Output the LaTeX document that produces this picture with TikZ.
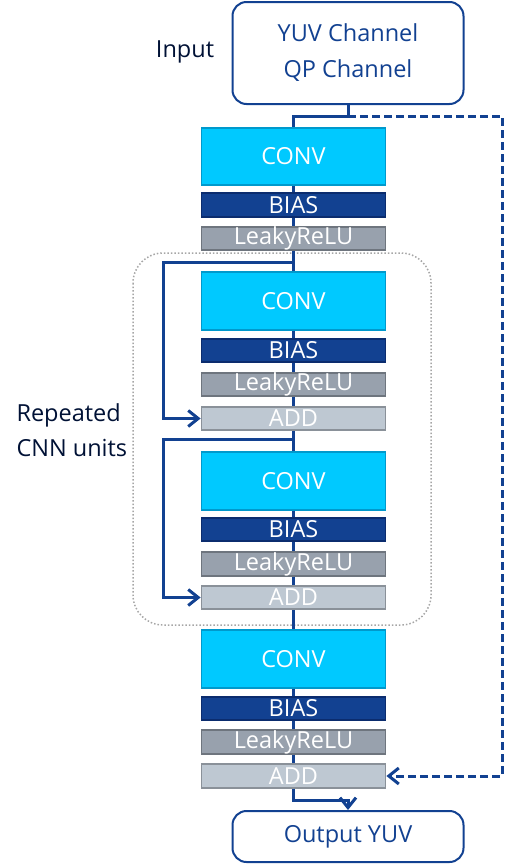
\documentclass[tikz,border=0pt]{standalone}
\usepackage{fontspec}
\setmainfont{Open Sans}
\usepackage{tikz}
\usetikzlibrary{arrows.meta,positioning,calc}
\definecolor{nblue}{HTML}{124191}
\definecolor{ndark}{HTML}{001135}
\definecolor{convfill}{HTML}{00C9FF}
\definecolor{convline}{HTML}{0099CC}
\definecolor{biasline}{HTML}{0B2C6E}
\definecolor{relufill}{HTML}{98A1AD}
\definecolor{reluline}{HTML}{6E757E}
\definecolor{addfill}{HTML}{BEC8D2}
\definecolor{addline}{HTML}{8A9199}

\begin{document}
\begin{tikzpicture}[x=1pt, y=-1pt, >={Straight Barb[length=10pt,width=16pt]},
    blk/.style={draw, line width=1.8pt, minimum width=184pt, inner sep=0pt, text=white,
        font=\fontsize{23.5}{26}\selectfont},
    convbox/.style={blk, fill=convfill, draw=convline, minimum height=57.5pt},
    biasbox/.style={blk, fill=nblue, draw=biasline, minimum height=23.5pt},
    relubox/.style={blk, fill=relufill, draw=reluline, minimum height=23.5pt},
    addbox/.style={blk, fill=addfill, draw=addline, minimum height=23.5pt},
    iobox/.style={draw=nblue, line width=2pt, rounded corners=14pt, minimum width=231pt,
        inner sep=0pt, text=nblue, align=center, font=\fontsize{23.5}{36}\selectfont},
    lbl/.style={text=ndark, align=left, font=\fontsize{23.5}{35}\selectfont},
    conn/.style={draw=nblue, line width=3pt}]
    \useasboundingbox (0,0) rectangle (504,868);

    % Input and output
    \node[iobox, minimum height=102pt] (in) at (348,53) {YUV Channel\\QP Channel};
    \node[lbl] (inlbl) at (185,52) {Input};
    \node[iobox, minimum height=51pt] (out) at (348,836.5) {Output YUV};

    % Repeated units frame
    \draw[gray!70, line width=1.5pt, dotted, rounded corners=30pt] (133,253) rectangle (431,625);
    \node[lbl, anchor=west] (replbl) at (13,430) {Repeated\\CNN units};

    % First unit
    \node[convbox] (conv1) at (293.5,156.5) {CONV};
    \node[biasbox] (bias1) at (293.5,205) {BIAS};
    \node[relubox] (relu1) at (293.5,238.5) {LeakyReLU};

    % Repeated units
    \node[convbox] (conv2) at (293.5,301) {CONV};
    \node[biasbox] (bias2) at (293.5,350.5) {BIAS};
    \node[relubox] (relu2) at (293.5,384.5) {LeakyReLU};
    \node[addbox] (add1) at (293.5,418.5) {ADD};

    \node[convbox] (conv3) at (293.5,481) {CONV};
    \node[biasbox] (bias3) at (293.5,529.5) {BIAS};
    \node[relubox] (relu3) at (293.5,564) {LeakyReLU};
    \node[addbox] (add2) at (293.5,597.5) {ADD};

    % Last unit
    \node[convbox] (conv4) at (293.5,659) {CONV};
    \node[biasbox] (bias4) at (293.5,708.5) {BIAS};
    \node[relubox] (relu4) at (293.5,742) {LeakyReLU};
    \node[addbox] (add3) at (293.5,776) {ADD};

    % Main path
    \coordinate (split) at (348,116);
    \draw[conn] (in.south) -- (split) -| (conv1.north);
    \foreach \a/\b in {conv1/bias1, bias1/relu1, relu1/conv2, conv2/bias2, bias2/relu2,
        relu2/add1, add1/conv3, conv3/bias3, bias3/relu3, relu3/add2, add2/conv4,
        conv4/bias4, bias4/relu4, relu4/add3}
        \draw[conn] (\a) -- (\b);
    \coordinate (outk) at (293.5,800);
    \draw[conn,->] (add3.south) -- (outk) -| (out.north);

    % Skip connections
    \coordinate (sk1) at (293.5,262);
    \coordinate (sk1b) at (163,262);
    \draw[conn,->] (sk1) -- (sk1b) |- (add1.west);
    \coordinate (sk2) at (293.5,439);
    \coordinate (sk2b) at (163,439);
    \draw[conn,->] (sk2) -- (sk2b) |- (add2.west);

    % Global skip (dashed)
    \coordinate (dsh) at (502,116);
    \draw[conn,->,dash pattern=on 8pt off 4pt] (split) -- (dsh) |- (add3.east);
\end{tikzpicture}
\end{document}
